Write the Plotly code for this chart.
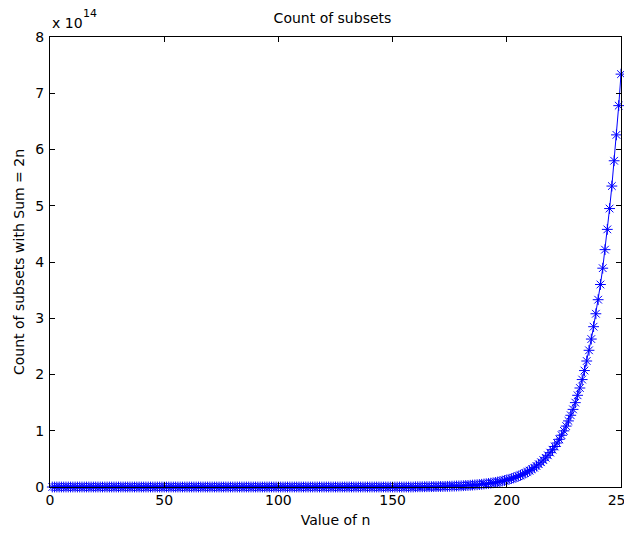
import plotly.graph_objects as go

# n values 1..250
n_values = list(range(1, 251))

# Counts, in units of 1e14 (axis multiplier "x 10^14")
counts_low_e14 = [0.0] * 159  # n = 1..159, visually zero
counts_high_e14 = [
    0.0030, 0.0033, 0.0036, 0.0040, 0.0044, 0.0049, 0.0054, 0.0060, 0.0066, 0.0073,  # 160-169
    0.008, 0.009, 0.010, 0.011, 0.012, 0.013, 0.015, 0.016, 0.018, 0.019,  # 170-179
    0.021, 0.023, 0.026, 0.028, 0.031, 0.034, 0.037, 0.040, 0.044, 0.048,  # 180-189
    0.053, 0.058, 0.063, 0.069, 0.075, 0.082, 0.089, 0.097, 0.106, 0.115,  # 190-199
    0.126, 0.137, 0.149, 0.162, 0.176, 0.191, 0.208, 0.226, 0.246, 0.268,  # 200-209
    0.291, 0.316, 0.343, 0.373, 0.405, 0.440, 0.478, 0.519, 0.563, 0.611,  # 210-219
    0.663, 0.720, 0.782, 0.848, 0.920, 0.998, 1.083, 1.175, 1.275, 1.38,   # 220-229
    1.50, 1.63, 1.76, 1.91, 2.07, 2.24, 2.43, 2.63, 2.85, 3.08,            # 230-239
    3.33, 3.60, 3.89, 4.22, 4.58, 4.95, 5.35, 5.80, 6.26, 6.78,            # 240-249
    7.34,                                                                  # 250
]
counts_e14 = counts_low_e14 + counts_high_e14

x_ticks = [0, 50, 100, 150, 200, 250]
y_ticks = [0, 1, 2, 3, 4, 5, 6, 7, 8]

FONT = "DejaVu Sans, Liberation Sans, Arial, sans-serif"

fig = go.Figure()
fig.add_trace(go.Scatter(
    x=n_values, y=counts_e14,
    mode="lines+markers",
    line=dict(color="#0000ff", width=1),
    marker=dict(symbol="asterisk-open", size=9, color="#0000ff",
                line=dict(color="#0000ff", width=1)),
    cliponaxis=False,
    showlegend=False,
))

axis_common = dict(
    showline=True, linecolor="black", linewidth=1, mirror="ticks",
    ticks="inside", ticklen=5, tickcolor="black", tickwidth=1,
    showgrid=False, zeroline=False, automargin=False,
    tickfont=dict(family=FONT, size=14, color="black"),
)

H = 529
# page body has an 8px margin, so the figure is sized/offset to compensate
fig.update_layout(
    width=624, height=H,
    margin=dict(l=42, r=11, t=29, b=50),
    paper_bgcolor="white", plot_bgcolor="white",
    font=dict(family=FONT, color="black"),
    title=dict(text="Count of subsets", x=0.52, xanchor="center",
               y=1 - 10 / H, yanchor="middle",
               font=dict(family=FONT, size=14, color="black")),
    xaxis=dict(range=[0, 250], tickvals=x_ticks,
               ticklabeloverflow="allow",
               title=dict(text="Value of n", standoff=8,
                          font=dict(family=FONT, size=14, color="black")),
               **axis_common),
    yaxis=dict(range=[0, 8], tickvals=y_ticks,
               ticklabelstandoff=2,
               title=dict(text="Count of subsets with Sum = 2n", standoff=7,
                          font=dict(family=FONT, size=14, color="black")),
               **axis_common),
    annotations=[
        dict(text="x 10", xref="paper", yref="paper",
             x=0, y=1, xanchor="left", yanchor="bottom", showarrow=False,
             font=dict(family=FONT, size=14, color="black"), yshift=4),
        dict(text="14", xref="paper", yref="paper",
             x=0, y=1, xanchor="left", yanchor="bottom", showarrow=False,
             font=dict(family=FONT, size=11, color="black"),
             xshift=31, yshift=15),
    ],
)

fig.write_html("out.html")
